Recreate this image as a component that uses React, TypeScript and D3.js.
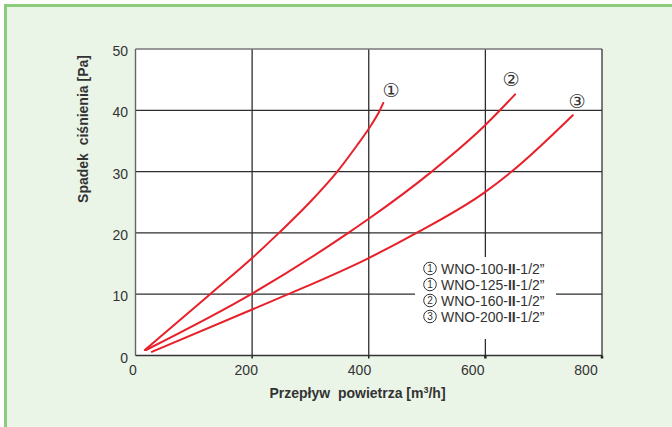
import React from "react";
import * as d3 from "d3";

const xTicks = [0, 200, 400, 600, 800];
const yTicks = [0, 10, 20, 30, 40, 50];

const curve1: [number, number][] = [[16, 0.9], [128, 10], [200, 15.9], [246, 20], [299, 25], [346, 30], [380, 34.3], [400, 37.0], [418, 39.8], [425, 41.2]];
const curve2: [number, number][] = [[18, 0.9], [200, 10.1], [365, 20], [400, 22.3], [508, 30], [600, 37.6], [625, 40], [651, 42.6]];
const curve3: [number, number][] = [[28, 0.6], [200, 7.5], [262, 10], [400, 15.9], [482, 20], [600, 26.7], [645, 30], [750, 39.2]];

const curveLabels: { t: string; x: number; y: number }[] = [
  { t: "①", x: 438, y: 43.3 },
  { t: "②", x: 644, y: 45.1 },
  { t: "③", x: 757, y: 41.5 },
];

const legendItems = [
  { c: "1", a: "WNO-100-", b: "II", d: "-1/2”" },
  { c: "1", a: "WNO-125-", b: "II", d: "-1/2”" },
  { c: "2", a: "WNO-160-", b: "II", d: "-1/2”" },
  { c: "3", a: "WNO-200-", b: "II", d: "-1/2”" },
];

const W = 672;
const H = 427;
const FONT = "'Liberation Sans', Arial, sans-serif";

export default function App() {
  const x = d3.scaleLinear().domain([0, 800]).range([135.5, 602]);
  const y = d3.scaleLinear().domain([0, 50]).range([355.5, 49]);
  const xLabel = d3.scaleLinear().domain([0, 800]).range([133, 586]);
  const line = d3
    .line<[number, number]>()
    .x((d) => x(d[0]))
    .y((d) => y(d[1]))
    .curve(d3.curveMonotoneX);

  const gridColor = "#2e2e2e";
  const red = "#e8202a";

  return (
    <svg
      width={W}
      height={H}
      style={{ position: "fixed", left: 0, top: 0, display: "block" }}
      fontFamily={FONT}
    >
      <rect x={0} y={0} width={W} height={H} fill="#ffffff" />
      <rect x={4} y={4} width={W - 4} height={H - 4} fill="#eaf5e8" />
      <rect x={4} y={4} width={W - 4} height={3} fill="#8ccb7c" />
      <rect x={4} y={4} width={3} height={H - 4} fill="#8ccb7c" />

      {/* plot background */}
      <rect x={x(0)} y={y(50)} width={x(800) - x(0)} height={y(0) - y(50)} fill="#ffffff" />

      {/* grid */}
      {yTicks.filter((t) => t > 0 && t < 50).map((t) => (
        <line key={"gy" + t} x1={x(0)} x2={x(800)} y1={y(t)} y2={y(t)} stroke={gridColor} strokeWidth={1.3} />
      ))}
      {xTicks.filter((t) => t > 0 && t < 800).map((t) => (
        <line key={"gx" + t} x1={x(t)} x2={x(t)} y1={y(50)} y2={y(0)} stroke={gridColor} strokeWidth={1.3} />
      ))}
      {/* borders */}
      <line x1={x(0)} x2={x(800)} y1={y(50)} y2={y(50)} stroke="#777" strokeWidth={1.6} />
      <line x1={x(800)} x2={x(800)} y1={y(50)} y2={y(0)} stroke="#333" strokeWidth={1.3} />
      <line x1={x(0)} x2={x(0)} y1={y(50)} y2={y(0)} stroke="#666" strokeWidth={1.4} />
      <line x1={x(0)} x2={x(800)} y1={y(0)} y2={y(0)} stroke="#333" strokeWidth={1.4} />
      {xTicks.filter((t) => t > 0).map((t) => (
        <line key={"tk" + t} x1={x(t)} x2={x(t)} y1={y(0)} y2={y(0) + 3} stroke="#222" strokeWidth={t >= 600 ? 2.5 : 1.5} />
      ))}

      {/* legend box */}
      <rect x={415} y={257} width={141} height={82} fill="#ffffff" />
      {legendItems.map((it, i) => {
        const cy = 268.5 + i * 16;
        return (
          <g key={"lg" + i} fontSize={14} fill="#333">
            <circle cx={430} cy={cy} r={6.3} fill="none" stroke="#333" strokeWidth={1} />
            <text x={430} y={cy + 3.6} textAnchor="middle" fontSize={10}>{it.c}</text>
            <text x={441} y={cy + 5} >
              {it.a}
              <tspan fontWeight="bold">{it.b}</tspan>
              {it.d}
            </text>
          </g>
        );
      })}

      {/* curves */}
      {[curve1, curve2, curve3].map((c, i) => (
        <path key={"c" + i} d={line(c) || ""} fill="none" stroke={red} strokeWidth={2} strokeLinecap="round" />
      ))}
      {curveLabels.map((l, i) => (
        <text
          key={"cl" + i}
          x={x(l.x)}
          y={y(l.y)}
          textAnchor="middle"
          dominantBaseline="central"
          fontFamily="'DejaVu Sans', sans-serif"
          fontSize={19}
          fill="#333"
        >
          {l.t}
        </text>
      ))}

      {/* tick labels */}
      {yTicks.map((t) => (
        <text key={"yl" + t} x={128} y={y(t) + 7} textAnchor="end" fontSize={14} fill="#333">
          {t}
        </text>
      ))}
      {xTicks.map((t) => (
        <text key={"xl" + t} x={xLabel(t)} y={375} textAnchor="middle" fontSize={14} fill="#333">
          {t}
        </text>
      ))}

      {/* axis titles */}
      <text x={357.5} y={398} textAnchor="middle" fontSize={14} fontWeight="bold" fill="#333">
        Przepływ{"\u00a0\u00a0"}powietrza [m<tspan dy={-5} fontSize={9}>3</tspan>
        <tspan dy={5}>/h]</tspan>
      </text>
      <text
        transform="translate(88,129) rotate(-90)"
        textAnchor="middle"
        fontSize={14}
        fontWeight="bold"
        fill="#333"
      >
        Spadek{"\u00a0\u00a0"}ciśnienia [Pa]
      </text>
    </svg>
  );
}
